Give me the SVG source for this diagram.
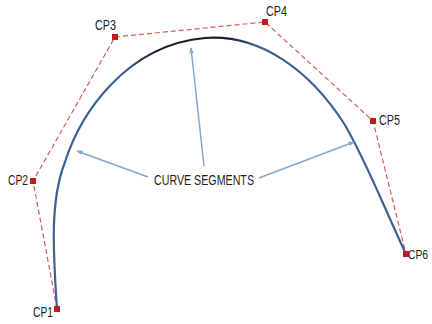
<svg xmlns="http://www.w3.org/2000/svg" width="432" height="324" viewBox="0 0 432 324">
<style>
.poly{fill:none;stroke:#d45a5a;stroke-width:1.2;stroke-dasharray:5 3}
.pt{fill:#c41a1a}
.lbl{font-family:"Liberation Sans",Arial,sans-serif;font-size:14px;fill:#1e1e1e}
.arr{fill:none;stroke:#86a5d3;stroke-width:1.5}
</style>
<defs>
<linearGradient id="cg" gradientUnits="userSpaceOnUse" x1="50" y1="0" x2="406" y2="0">
<stop offset="0" stop-color="#3d6292"/>
<stop offset="0.2" stop-color="#3d6292"/>
<stop offset="0.3" stop-color="#1a1f2a"/>
<stop offset="0.5" stop-color="#1a1f2a"/>
<stop offset="0.58" stop-color="#3d6292"/>
<stop offset="1" stop-color="#3d6292"/>
</linearGradient>
<marker id="ah" viewBox="0 0 10 10" refX="9" refY="5" markerWidth="6" markerHeight="6" orient="auto" markerUnits="userSpaceOnUse">
<path d="M0,1 L10,5 L0,9 Z" fill="#86a5d3"/>
</marker>
</defs>
<g id="control-polygon">
<polyline class="poly" points="57,309 33,181 115,37 265,22 373,121 406,254"/>
</g>
<g id="curve">
<path d="M57,309 C53,250 50,200 65,162 C80,115 125,45 205,38 C260,34 310,70 345,125 C368,165 385,210 406,254" fill="none" stroke="url(#cg)" stroke-width="2.2"/>
</g>
<g id="connectors">
<line class="arr" x1="148" y1="177" x2="77" y2="151" marker-end="url(#ah)"/>
<line class="arr" x1="204" y1="166" x2="191" y2="48" marker-end="url(#ah)"/>
<line class="arr" x1="259" y1="178" x2="354" y2="142" marker-end="url(#ah)"/>
</g>
<g id="cp1"><rect class="pt" x="54" y="306" width="6" height="6"/><text class="lbl" x="33" y="317" textLength="20" lengthAdjust="spacingAndGlyphs">CP1</text></g>
<g id="cp2"><rect class="pt" x="30" y="178" width="6" height="6"/><text class="lbl" x="8" y="185" textLength="20" lengthAdjust="spacingAndGlyphs">CP2</text></g>
<g id="cp3"><rect class="pt" x="112" y="34" width="6" height="6"/><text class="lbl" x="95" y="30" textLength="21" lengthAdjust="spacingAndGlyphs">CP3</text></g>
<g id="cp4"><rect class="pt" x="262" y="19" width="6" height="6"/><text class="lbl" x="266" y="16" textLength="21" lengthAdjust="spacingAndGlyphs">CP4</text></g>
<g id="cp5"><rect class="pt" x="370" y="118" width="6" height="6"/><text class="lbl" x="379" y="125" textLength="21" lengthAdjust="spacingAndGlyphs">CP5</text></g>
<g id="cp6"><rect class="pt" x="403" y="251" width="6" height="6"/><text class="lbl" x="408" y="259" style="font-size:12px" textLength="20" lengthAdjust="spacingAndGlyphs">CP6</text></g>
<g id="label"><text class="lbl" x="154" y="185" textLength="100" lengthAdjust="spacingAndGlyphs">CURVE SEGMENTS</text></g>
</svg>
